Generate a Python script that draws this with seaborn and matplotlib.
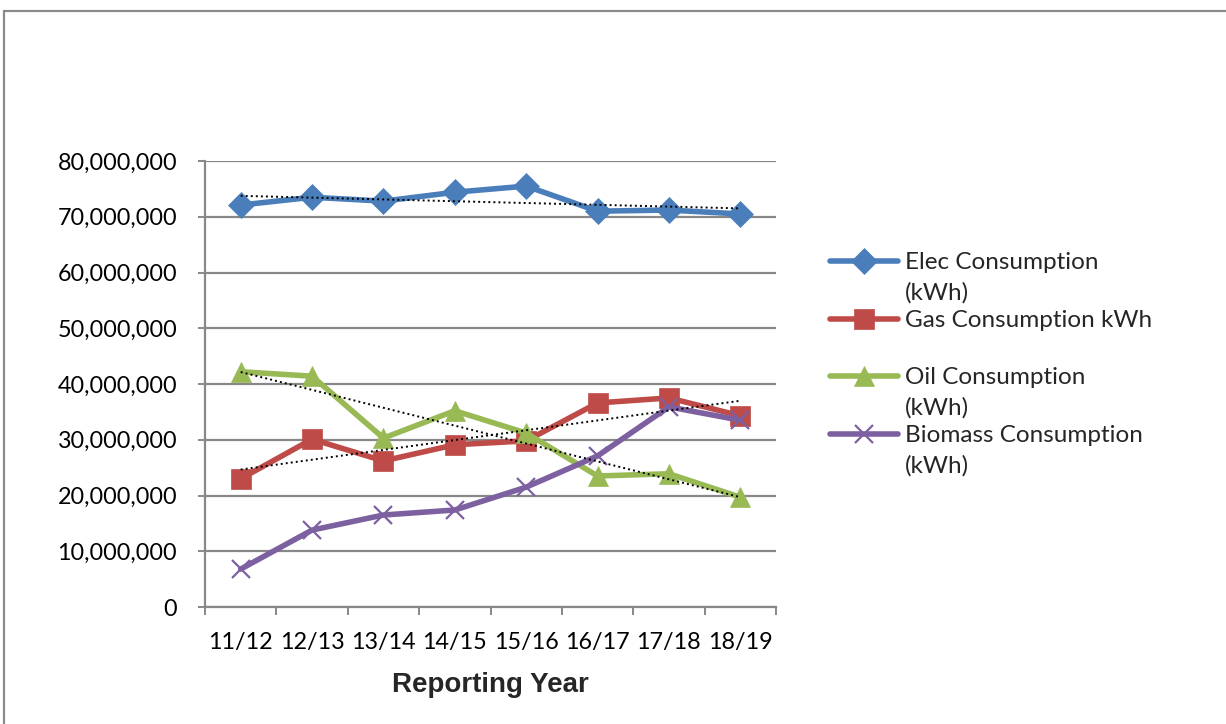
import numpy as np
import pandas as pd
import seaborn as sns
import matplotlib.pyplot as plt
from matplotlib.patches import Rectangle
from matplotlib.ticker import FuncFormatter, MultipleLocator, FixedLocator

sns.set_theme(style="white")
plt.rcParams['font.family'] = ['Lato', 'DejaVu Sans']

years = ["11/12", "12/13", "13/14", "14/15", "15/16", "16/17", "17/18", "18/19"]
elec = [72.1e6, 73.5e6, 72.8e6, 74.4e6, 75.5e6, 71.0e6, 71.2e6, 70.5e6]
gas = [23.0e6, 30.1e6, 26.2e6, 29.1e6, 29.8e6, 36.6e6, 37.5e6, 34.3e6]
oil = [42.2e6, 41.4e6, 30.3e6, 35.2e6, 31.2e6, 23.5e6, 23.9e6, 19.7e6]
biomass = [6.8e6, 13.8e6, 16.5e6, 17.4e6, 21.5e6, 27.1e6, 35.9e6, 33.5e6]

labels = ["Elec Consumption\n(kWh)", "Gas Consumption kWh\n",
          "Oil Consumption\n(kWh)", "Biomass Consumption\n(kWh)"]
colors = ["#4A7EBB", "#BE4B48", "#98B954", "#7D60A0"]
markers = ["D", "s", "^", "x"]
msizes = [13, 14, 15, 13]
with_trend = [True, True, True, False]

fig = plt.figure(figsize=(12.26, 7.24), dpi=100)
ax = fig.add_axes([205 / 1226, 1 - 607 / 724, (776 - 205) / 1226, (607 - 161) / 724])

x = np.arange(len(years))
handles = []
for vals, lab, col, mk, ms, tr in zip([elec, gas, oil, biomass], labels, colors,
                                      markers, msizes, with_trend):
    df = pd.DataFrame({"x": x, "y": vals})
    sns.lineplot(data=df, x="x", y="y", ax=ax, color=col, lw=4.0, legend=False,
                 marker=mk, markersize=ms, markeredgecolor=col,
                 markeredgewidth=1.6 if mk == "x" else 0.5, zorder=3)
    line = ax.get_lines()[-1]
    line.set_label(lab)
    handles.append(line)
    if tr:
        # linear trend across the reporting years
        k, b = np.polyfit(x, vals, 1)
        ax.plot([x[0], x[-1]], [k * x[0] + b, k * x[-1] + b], color="black",
                lw=1.4, ls=(0, (1, 1.6)), zorder=4)

ax.set_xlim(-0.5, len(years) - 0.5)
ax.set_ylim(0, 80e6)
ax.yaxis.set_major_locator(MultipleLocator(10e6))
ax.yaxis.set_major_formatter(FuncFormatter(lambda v, p: f"{int(v):,}"))
ax.xaxis.set_major_locator(FixedLocator(x))
ax.set_xticklabels(years)
ax.xaxis.set_minor_locator(FixedLocator(np.arange(-0.5, len(years), 1.0)))

ax.grid(axis="y", color="#888888", lw=1.6)
ax.set_axisbelow(True)
for s in ["top", "right"]:
    ax.spines[s].set_visible(False)
for s in ["left", "bottom"]:
    ax.spines[s].set_color("#888888")
    ax.spines[s].set_linewidth(1.6)

ax.tick_params(axis="y", which="major", left=True, length=5, width=1.4,
               color="#888888", labelsize=16.8, pad=15, labelcolor="black")
ax.tick_params(axis="x", which="major", bottom=False, labelsize=16.8, pad=12,
               labelcolor="black")
ax.tick_params(axis="x", which="minor", bottom=True, length=6, width=1.4,
               color="#888888")

ax.set_xlabel("Reporting Year", fontsize=20, fontweight="bold",
              family=["Liberation Sans"], labelpad=14)
ax.set_ylabel("")

leg = fig.legend(handles=handles, labels=labels, loc="upper left",
                 bbox_to_anchor=(830 / 1226, 1 - 252 / 724), frameon=False,
                 fontsize=17.5, handlelength=2.8, handletextpad=0.3,
                 labelspacing=0.28, borderaxespad=0, borderpad=0)
for t in leg.get_texts():
    t.set_linespacing(1.5)
# keep each legend key level with the first line of its label
for column in leg._legend_handle_box.get_children():
    for item in column.get_children():
        item.align = "top"

# outer chart border
fig.patches.append(Rectangle((4 / 1226, -0.05), 1.2, 1 - 11 / 724 + 0.05,
                             transform=fig.transFigure, fill=False,
                             edgecolor="#8A8A8A", lw=1.6))

fig.savefig("out.png", dpi=100, facecolor="white")
